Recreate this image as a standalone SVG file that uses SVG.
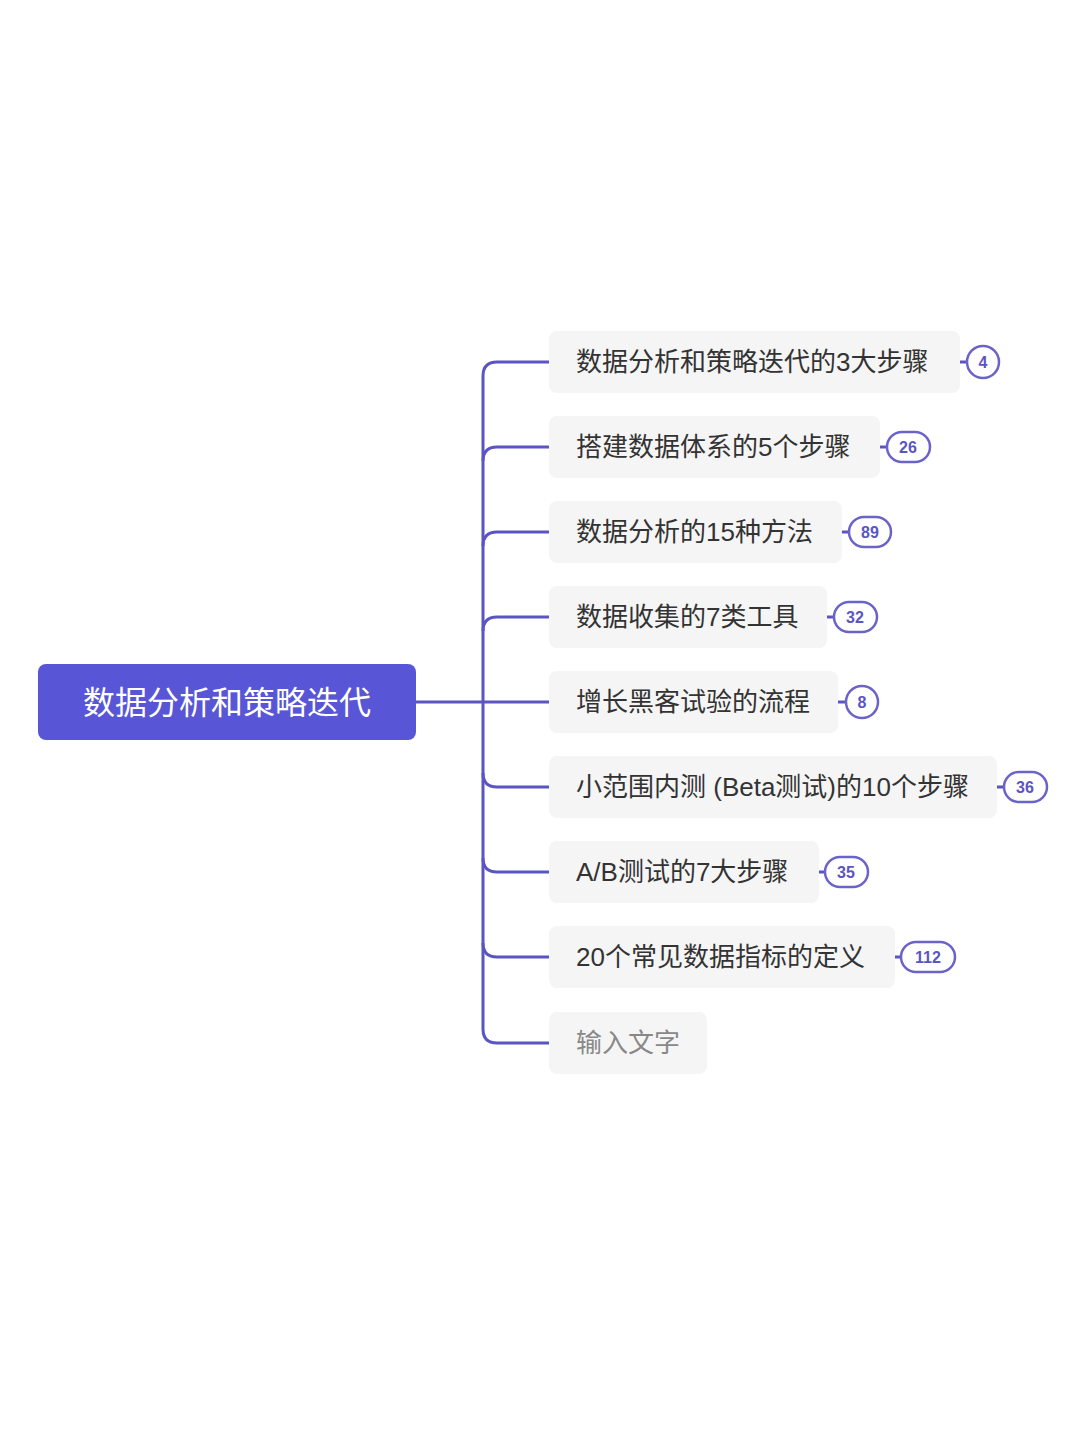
<svg xmlns="http://www.w3.org/2000/svg" width="1080" height="1440" viewBox="0 0 1080 1440">
<style>
.t{font-family:"Liberation Sans","Noto Sans CJK SC",sans-serif;font-size:26px;fill:#333;dominant-baseline:central}
.n{fill:#f5f5f5}
.c{fill:none;stroke:#5b55c4;stroke-width:3}
.b{fill:#fff;stroke:#6a63c9;stroke-width:2.5}
.bt{font-family:"Liberation Sans",sans-serif;font-size:16px;font-weight:bold;fill:#5b55c4;text-anchor:middle;dominant-baseline:central}
</style>
<rect width="1080" height="1440" fill="#fff"/>
<g id="connectors" class="c">
<path d="M416 702H549"/>
<path d="M549 362H497Q483 362 483 376V1029Q483 1043 497 1043H549"/>
<path d="M483 461Q483 447 497 447H549"/>
<path d="M483 546Q483 532 497 532H549"/>
<path d="M483 631Q483 617 497 617H549"/>
<path d="M483 773Q483 787 497 787H549"/>
<path d="M483 858Q483 872 497 872H549"/>
<path d="M483 943Q483 957 497 957H549"/>
<path d="M960 362H967M880 447H887M842 532H849M827 617H834M838 702H846M997 787H1004M819 872H825M895 957H901"/>
</g>
<g id="root"><rect x="38" y="664" width="378" height="76" rx="8" fill="#5856d6"/><text x="227" y="703" style="font-family:'Liberation Sans','Noto Sans CJK SC',sans-serif;font-size:32px;fill:#fff;text-anchor:middle;dominant-baseline:central">数据分析和策略迭代</text></g>
<g id="n1"><rect class="n" x="549" y="331" width="411" height="62" rx="8"/><text class="t" x="576" y="362">数据分析和策略迭代的3大步骤</text><rect class="b" x="967" y="346" width="32" height="32" rx="16"/><text class="bt" x="983" y="362">4</text></g>
<g id="n2"><rect class="n" x="549" y="416" width="331" height="62" rx="8"/><text class="t" x="576" y="447">搭建数据体系的5个步骤</text><rect class="b" x="887" y="432" width="43" height="30" rx="15"/><text class="bt" x="908" y="447">26</text></g>
<g id="n3"><rect class="n" x="549" y="501" width="293" height="62" rx="8"/><text class="t" x="576" y="532">数据分析的15种方法</text><rect class="b" x="849" y="517" width="42" height="30" rx="15"/><text class="bt" x="870" y="532">89</text></g>
<g id="n4"><rect class="n" x="549" y="586" width="278" height="62" rx="8"/><text class="t" x="576" y="617">数据收集的7类工具</text><rect class="b" x="834" y="602" width="43" height="30" rx="15"/><text class="bt" x="855" y="617">32</text></g>
<g id="n5"><rect class="n" x="549" y="671" width="289" height="62" rx="8"/><text class="t" x="576" y="702">增长黑客试验的流程</text><rect class="b" x="846" y="686" width="32" height="32" rx="16"/><text class="bt" x="862" y="702">8</text></g>
<g id="n6"><rect class="n" x="549" y="756" width="448" height="62" rx="8"/><text class="t" x="576" y="787">小范围内测 (Beta测试)的10个步骤</text><rect class="b" x="1004" y="772" width="43" height="30" rx="15"/><text class="bt" x="1025" y="787">36</text></g>
<g id="n7"><rect class="n" x="549" y="841" width="270" height="62" rx="8"/><text class="t" x="576" y="872">A/B测试的7大步骤</text><rect class="b" x="825" y="857" width="43" height="30" rx="15"/><text class="bt" x="846" y="872">35</text></g>
<g id="n8"><rect class="n" x="549" y="926" width="346" height="62" rx="8"/><text class="t" x="576" y="957">20个常见数据指标的定义</text><rect class="b" x="901" y="942" width="54" height="30" rx="15"/><text class="bt" x="928" y="957">112</text></g>
<g id="n9"><rect class="n" x="549" y="1012" width="158" height="62" rx="8"/><text class="t" x="576" y="1043" style="fill:#888">输入文字</text></g>
</svg>
